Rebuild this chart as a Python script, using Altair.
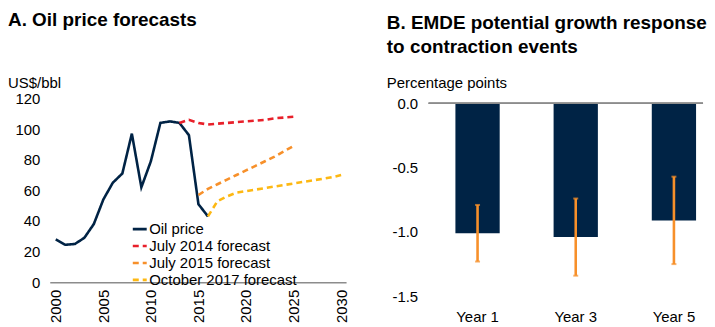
import altair as alt
import pandas as pd

FONT = "Liberation Sans"

# ---- Panel A data ----
oil_years = list(range(2000, 2017))
oil_values = [28, 24.5, 25, 29, 38, 54, 65, 71, 97, 62, 79, 104, 105, 104, 96, 51, 43]

f14_years = list(range(2013, 2026))
f14_values = [104, 106, 104, 103, 103.5, 104, 104.5, 105, 105.5, 106, 107, 107.5, 108]

f15_years = list(range(2015, 2026))
f15_values = [57, 61, 64, 67, 70, 73, 76, 79, 82, 85.5, 89]

f17_years = list(range(2016, 2031))
f17_values = [43, 53, 56, 58.5, 59.5, 60.5, 61.5, 62.5, 63.5, 64.5, 65.5, 66.5, 67.5, 68.5, 70]

series_names = ["Oil price", "July 2014 forecast", "July 2015 forecast", "October 2017 forecast"]
series_colors = ["#002345", "#E8202A", "#F7902A", "#FDB813"]
series_dash = [[1, 0], [6, 4], [6, 4], [6, 4]]

# ---- Panel B data ----
years_b = ["Year 1", "Year 3", "Year 5"]
bar_values = [-1.01, -1.04, -0.91]
err_hi = [-0.79, -0.74, -0.57]
err_lo = [-1.23, -1.34, -1.25]

rows = []
for name, ys, vs in zip(series_names, [oil_years, f14_years, f15_years, f17_years],
                        [oil_values, f14_values, f15_values, f17_values]):
    for y, v in zip(ys, vs):
        rows.append({"year": y, "value": v, "series": name})
df_a = pd.DataFrame(rows)

df_b = pd.DataFrame({"year": years_b, "value": bar_values, "hi": err_hi, "lo": err_lo})

legend_a = alt.Legend(orient="none", legendX=82, legendY=124, title=None,
                      symbolType="stroke", symbolSize=196, symbolStrokeWidth=2.6,
                      labelFontSize=15, labelFont=FONT, labelColor="#000000",
                      labelOffset=1, rowPadding=-1.6, padding=0, symbolOffset=0)

lines = alt.Chart(df_a).mark_line(strokeWidth=2.6).encode(
    x=alt.X("year:Q",
            scale=alt.Scale(domain=[1999.37, 2030.52], nice=False, zero=False),
            axis=alt.Axis(values=[2000, 2005, 2010, 2015, 2020, 2025, 2030], format="d",
                          labelAngle=270, labelAlign="right", labelBaseline="middle",
                          labelPadding=7, ticks=False, grid=False, domainColor="#8c8c8c",
                          domainWidth=1.5, title=None)),
    y=alt.Y("value:Q", scale=alt.Scale(domain=[0, 120.65], nice=False),
            axis=alt.Axis(values=[0, 20, 40, 60, 80, 100, 120], ticks=False, domain=False,
                          grid=False, labelPadding=10, title=None)),
    color=alt.Color("series:N",
                    scale=alt.Scale(domain=series_names, range=series_colors),
                    legend=legend_a),
    strokeDash=alt.StrokeDash("series:N",
                              scale=alt.Scale(domain=series_names, range=series_dash),
                              legend=legend_a),
    order="year:Q",
).properties(
    width=298, height=186,
    title=alt.TitleParams("A. Oil price forecasts", subtitle="US$/bbl", anchor="start",
                          frame="group", dx=-42, fontSize=19, font=FONT, fontWeight="bold",
                          color="#000000", subtitleFont=FONT, subtitleFontSize=15,
                          subtitleColor="#000000", subtitlePadding=47, offset=0),
)

xb = alt.X("year:N", sort=years_b,
           scale=alt.Scale(paddingInner=0.549, paddingOuter=0.172, align=0.794),
           axis=alt.Axis(labelAngle=0, ticks=False, domain=False, labelPadding=13, title=None))

bars = alt.Chart(df_b).mark_bar(color="#002345").encode(
    x=xb,
    y=alt.Y("value:Q", scale=alt.Scale(domain=[-1.5, 0.0464], nice=False, zero=False),
            axis=alt.Axis(values=[0, -0.5, -1.0, -1.5], ticks=False, domain=False, grid=False,
                          labelPadding=11, title=None,
                          labelExpr="replace(format(datum.value, '.1f'), '\u2212', '-')")),
)
zero = alt.Chart(df_b).mark_rule(color="#8c8c8c", strokeWidth=1.5).encode(y=alt.datum(0))
err = alt.Chart(df_b).mark_rule(color="#F7902A", strokeWidth=2.6).encode(
    x=xb, y=alt.Y("hi:Q"), y2="lo:Q")
cap_hi = alt.Chart(df_b).mark_tick(color="#F7902A", size=5, thickness=2).encode(x=xb, y="hi:Q")
cap_lo = alt.Chart(df_b).mark_tick(color="#F7902A", size=5, thickness=2).encode(x=xb, y="lo:Q")

right = alt.layer(bars, zero, err, cap_hi, cap_lo).properties(
    width=276, height=200,
    title=alt.TitleParams(["B. EMDE potential growth response", "to contraction events"],
                          subtitle="Percentage points", anchor="start", frame="group", dx=-42,
                          fontSize=19, font=FONT, fontWeight="bold", color="#000000",
                          lineHeight=24, subtitleFont=FONT, subtitleFontSize=15,
                          subtitleColor="#000000", subtitlePadding=20, offset=5),
)

chart = alt.hconcat(lines, right, spacing=37).properties(
    padding={"left": 0, "top": 2, "right": 0, "bottom": 0}
).configure_view(
    stroke=None
).configure_axis(
    labelFont=FONT, labelFontSize=15, labelColor="#000000"
)

chart.save("out.html", embed_options={"renderer": "svg", "actions": False})
